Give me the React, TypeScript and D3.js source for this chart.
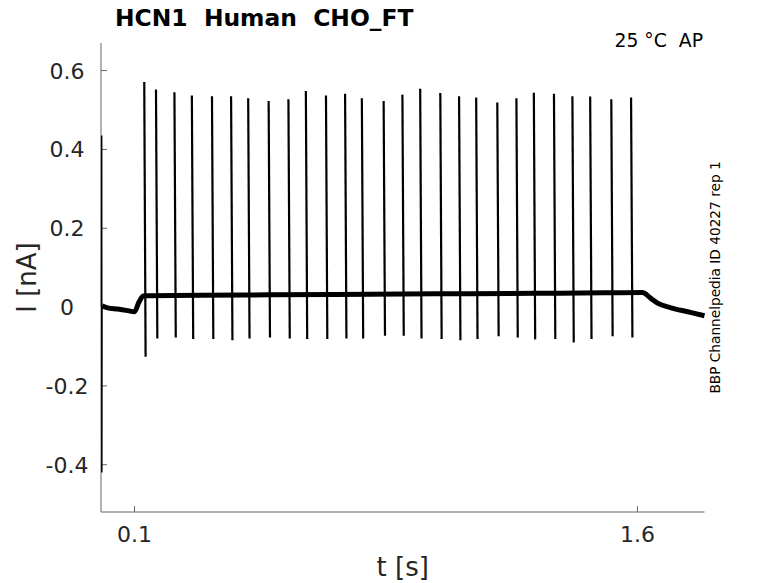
import React, { useEffect, useRef } from 'react';
import * as d3 from 'd3';

// spike times [s], peak and trough currents [nA]
const spikeTimes = [
  0.129, 0.164, 0.219, 0.271, 0.331, 0.388, 0.439, 0.500, 0.559, 0.611,
  0.671, 0.728, 0.778, 0.843, 0.899, 0.952, 1.012, 1.068, 1.119, 1.182,
  1.239, 1.291, 1.351, 1.406, 1.459, 1.522, 1.581
];
const spikePeaks = [
  0.571, 0.552, 0.545, 0.537, 0.535, 0.535, 0.530, 0.523, 0.527, 0.548,
  0.537, 0.541, 0.530, 0.523, 0.539, 0.554, 0.543, 0.535, 0.532, 0.519,
  0.530, 0.544, 0.541, 0.535, 0.534, 0.527, 0.532
];
const spikeTroughs = [
  -0.126, -0.080, -0.077, -0.081, -0.081, -0.084, -0.080, -0.077, -0.080, -0.081,
  -0.081, -0.080, -0.080, -0.073, -0.073, -0.080, -0.081, -0.084, -0.081, -0.074,
  -0.077, -0.082, -0.081, -0.090, -0.081, -0.074, -0.077
];

// holding current between spikes
const baseTimes = [
  0.003, 0.02, 0.05, 0.08, 0.1, 0.113, 0.126, 0.14, 0.3, 0.5, 0.7, 0.9,
  1.1, 1.3, 1.5, 1.615, 1.64, 1.66, 1.7, 1.75, 1.8
];
const baseValues = [
  0.003, -0.002, -0.005, -0.009, -0.012, 0.012, 0.028, 0.029, 0.030, 0.031, 0.032, 0.033,
  0.034, 0.035, 0.036, 0.037, 0.022, 0.010, -0.002, -0.012, -0.022
];

// capacitive transient at the start of the sweep
const transientTimes = [0.0015, 0.002, 0.0025, 0.003];
const transientValues = [0.0, 0.435, -0.42, 0.003];

const xTicks = [0.1, 1.6];
const yTicks = [-0.4, -0.2, 0, 0.2, 0.4, 0.6];

const title = 'HCN1  Human  CHO_FT';
const condition = '25 °C  AP';
const sideNote = 'BBP Channelpedia ID 40227 rep 1';

const App: React.FC = () => {
  const svgRef = useRef<SVGSVGElement>(null);
  const width = 778;
  const height = 583;

  useEffect(() => {
    if (!svgRef.current) return;
    const svg = d3.select(svgRef.current);
    svg.selectAll('*').remove();

    const font = "'DejaVu Sans', sans-serif";
    const x = d3.scaleLinear().domain([0, 1.8]).range([101, 704.5]);
    const y = d3.scaleLinear().domain([-0.52, 0.67]).range([512, 43]);

    const [x0, x1] = x.range();
    const [y0, y1] = y.range();

    // axes (box off, ticks inside)
    const axis = svg.append('g').attr('stroke', '#666').attr('stroke-width', 1).attr('fill', 'none');
    axis.append('line').attr('x1', x0).attr('x2', x0).attr('y1', y0).attr('y2', y1);
    axis.append('line').attr('x1', x0).attr('x2', x1).attr('y1', y0).attr('y2', y0);
    axis.selectAll('.yt').data(yTicks).join('line')
      .attr('x1', x0).attr('x2', x0 + 6)
      .attr('y1', d => y(d)).attr('y2', d => y(d));
    axis.selectAll('.xt').data(xTicks).join('line')
      .attr('x1', d => x(d)).attr('x2', d => x(d))
      .attr('y1', y0).attr('y2', y0 - 6);

    svg.append('g')
      .attr('font-family', font).attr('font-size', 22).attr('fill', '#262626')
      .attr('text-anchor', 'middle')
      .selectAll('text').data(yTicks).join('text')
      .attr('x', 67).attr('y', d => y(d)).attr('dy', '0.36em')
      .text(d => String(d));

    svg.append('g')
      .attr('font-family', font).attr('font-size', 22).attr('fill', '#262626')
      .attr('text-anchor', 'middle')
      .selectAll('text').data(xTicks).join('text')
      .attr('x', d => x(d)).attr('y', 542)
      .text(d => String(d));

    // trace
    const base = d3.line<number>()
      .x((_, i) => x(baseTimes[i]))
      .y(d => y(d))
      .curve(d3.curveMonotoneX);
    svg.append('path')
      .attr('d', base(baseValues))
      .attr('fill', 'none').attr('stroke', '#000').attr('stroke-width', 5)
      .attr('stroke-linejoin', 'round');

    const transient = d3.line<number>()
      .x((_, i) => x(transientTimes[i]))
      .y(d => y(d));
    svg.append('path')
      .attr('d', transient(transientValues))
      .attr('fill', 'none').attr('stroke', '#000').attr('stroke-width', 1.5);

    svg.append('g')
      .attr('stroke', '#000').attr('stroke-width', 2.2).attr('fill', 'none')
      .selectAll('path').data(spikeTimes).join('path')
      .attr('d', (t, i) => `M${x(t)},${y(spikePeaks[i])}L${x(t + 0.004)},${y(spikeTroughs[i])}`);

    // labels
    svg.append('text')
      .attr('x', 115).attr('y', 26)
      .attr('font-family', font).attr('font-size', 23.4).attr('font-weight', 'bold')
      .attr('fill', '#000').style('white-space', 'pre')
      .text(title);

    svg.append('text')
      .attr('x', 703).attr('y', 47).attr('text-anchor', 'end')
      .attr('font-family', font).attr('font-size', 18.8).attr('fill', '#000')
      .style('white-space', 'pre')
      .text(condition);

    svg.append('text')
      .attr('transform', `translate(720,${(y0 + y1) / 2}) rotate(-90)`)
      .attr('text-anchor', 'middle')
      .attr('font-family', font).attr('font-size', 13.7).attr('fill', '#000')
      .text(sideNote);

    svg.append('text')
      .attr('transform', `translate(36,${(y0 + y1) / 2}) rotate(-90)`)
      .attr('text-anchor', 'middle')
      .attr('font-family', font).attr('font-size', 26).attr('fill', '#262626')
      .text('I [nA]');

    svg.append('text')
      .attr('x', (x0 + x1) / 2).attr('y', 576)
      .attr('text-anchor', 'middle')
      .attr('font-family', font).attr('font-size', 26).attr('fill', '#262626')
      .text('t [s]');
  }, []);

  return (
    <svg
      ref={svgRef}
      width={width}
      height={height}
      style={{ position: 'absolute', left: 0, top: 0, background: '#fff' }}
    />
  );
};

export default App;
